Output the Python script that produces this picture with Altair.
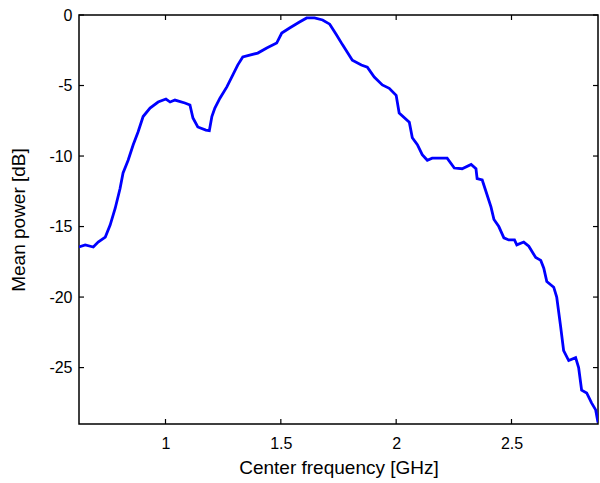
import altair as alt
import pandas as pd

freq_ghz = [0.625, 0.652, 0.687, 0.708, 0.739, 0.760, 0.782, 0.803, 0.816, 0.838,
            0.860, 0.881, 0.903, 0.933, 0.968, 1.002, 1.020, 1.041, 1.084, 1.106,
            1.119, 1.140, 1.175, 1.190, 1.201, 1.214, 1.236, 1.266, 1.292, 1.313,
            1.335, 1.365, 1.400, 1.439, 1.482, 1.504, 1.538, 1.581, 1.612, 1.646,
            1.681, 1.712, 1.741, 1.767, 1.810, 1.849, 1.875, 1.905, 1.940, 1.970,
            2.000, 2.013, 2.057, 2.070, 2.092, 2.113, 2.135, 2.156, 2.200, 2.221,
            2.252, 2.286, 2.325, 2.346, 2.351, 2.373, 2.389, 2.411, 2.424, 2.445,
            2.467, 2.488, 2.513, 2.523, 2.553, 2.575, 2.605, 2.627, 2.640, 2.653,
            2.683, 2.696, 2.713, 2.726, 2.748, 2.778, 2.791, 2.804, 2.826, 2.847,
            2.865, 2.875]
power_db = [-16.45, -16.3, -16.45, -16.1, -15.75, -14.9, -13.7, -12.3, -11.2, -10.3,
            -9.2, -8.3, -7.2, -6.6, -6.17, -5.96, -6.17, -6.03, -6.24, -6.38,
            -7.3, -7.94, -8.16, -8.2, -7.2, -6.6, -5.9, -5.1, -4.25, -3.55,
            -2.98, -2.84, -2.7, -2.34, -1.99, -1.28, -0.92, -0.5, -0.21, -0.21,
            -0.35, -0.65, -1.4, -2.1, -3.2, -3.55, -3.7, -4.4, -4.96, -5.2,
            -5.7, -6.95, -7.6, -8.7, -9.2, -9.9, -10.3, -10.15, -10.15, -10.15,
            -10.85, -10.9, -10.6, -10.9, -11.6, -11.7, -12.5, -13.6, -14.5, -15.0,
            -15.8, -15.95, -15.95, -16.3, -16.1, -16.4, -17.2, -17.4, -17.95, -18.9,
            -19.3, -20.0, -22.1, -23.8, -24.5, -24.3, -25.0, -26.6, -26.8, -27.5,
            -28.0, -28.9]

x_ticks = [1.0, 1.5, 2.0, 2.5]
y_ticks = [0, -5, -10, -15, -20, -25]

W, H = 519, 409
FONT = "Liberation Sans"

xs = alt.Scale(domain=[0.625, 2.875], nice=False, zero=False)
ys = alt.Scale(domain=[-29, 0], nice=False, zero=False)

df = pd.DataFrame({"f": freq_ghz, "p": power_db})
xt = pd.DataFrame({"v": x_ticks})
yt = pd.DataFrame({"v": y_ticks})

line = alt.Chart(df).mark_line(color="#0000FF", strokeWidth=2.8, clip=True).encode(
    x=alt.X("f:Q", scale=xs,
            axis=alt.Axis(values=x_ticks, title="Center frequency [GHz]",
                          labelExpr="'' + datum.value",
                          domain=False, ticks=False, grid=False, labelPadding=11,
                          titlePadding=7)),
    y=alt.Y("p:Q", scale=ys,
            axis=alt.Axis(values=y_ticks, title="Mean power [dB]",
                          labelExpr="'' + datum.value",
                          domain=False, ticks=False, grid=False, labelPadding=7,
                          titlePadding=20)),
)

tick_b = alt.Chart(xt).mark_rule(color="black", strokeWidth=1.2).encode(
    x=alt.X("v:Q", scale=xs), y=alt.value(H), y2=alt.value(H - 5))
tick_t = alt.Chart(xt).mark_rule(color="black", strokeWidth=1.2).encode(
    x=alt.X("v:Q", scale=xs), y=alt.value(0), y2=alt.value(5))
tick_l = alt.Chart(yt).mark_rule(color="black", strokeWidth=1.2).encode(
    y=alt.Y("v:Q", scale=ys), x=alt.value(0), x2=alt.value(5))
tick_r = alt.Chart(yt).mark_rule(color="black", strokeWidth=1.2).encode(
    y=alt.Y("v:Q", scale=ys), x=alt.value(W), x2=alt.value(W - 5))

chart = alt.layer(line, tick_b, tick_t, tick_l, tick_r).properties(
    width=W, height=H,
    autosize=alt.AutoSizeParams(type="none"),
    padding={"left": 79, "top": 15, "right": 2, "bottom": 59},
    background="white",
).configure_view(stroke="black", strokeWidth=1.5).configure_axis(
    labelFont=FONT, titleFont=FONT, labelFontSize=16, titleFontSize=19,
    labelColor="black", titleColor="black", titleFontWeight="normal",
)

chart.save("out.html", embed_options={"renderer": "svg", "actions": False})
